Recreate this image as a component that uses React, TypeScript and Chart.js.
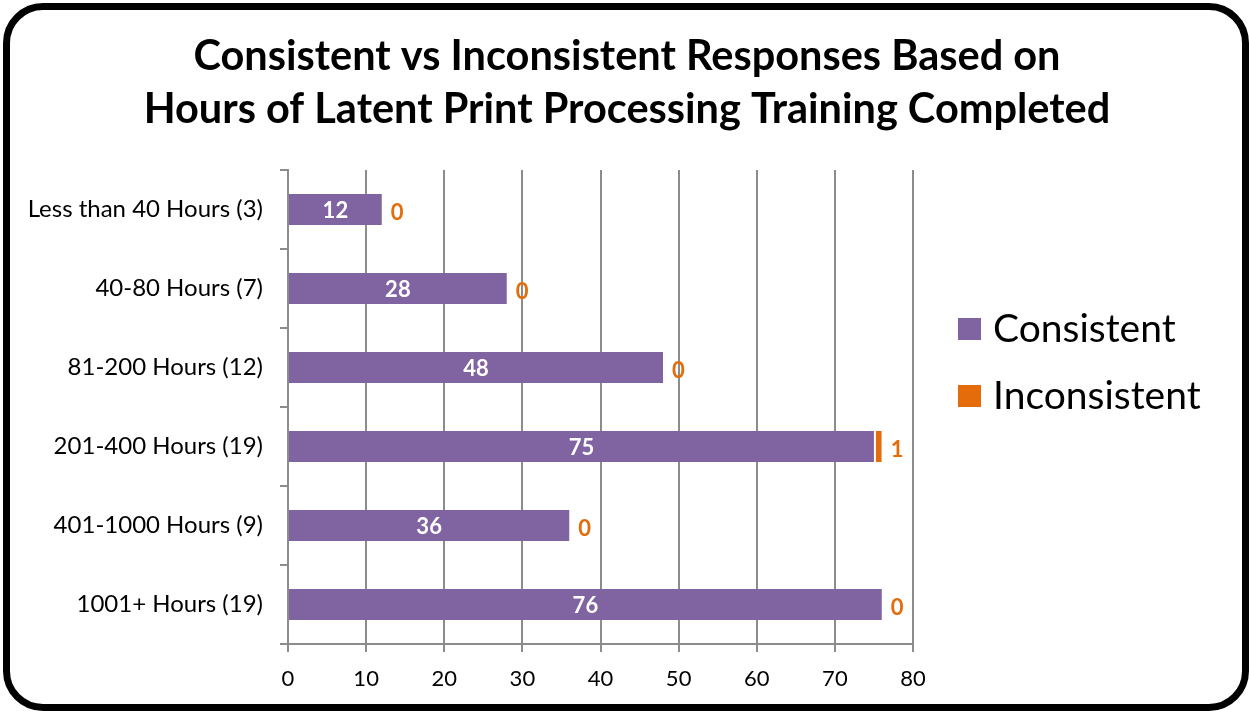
import React, { useEffect, useRef } from "react";
import Chart from "chart.js/auto";

const categories = [
  "Less than 40 Hours (3)",
  "40-80 Hours (7)",
  "81-200 Hours (12)",
  "201-400 Hours (19)",
  "401-1000 Hours (9)",
  "1001+ Hours (19)",
];
const consistent = [12, 28, 48, 75, 36, 76];
const inconsistent = [0, 0, 0, 1, 0, 0];
const seriesNames = ["Consistent", "Inconsistent"];
const titleLines = [
  "Consistent vs Inconsistent Responses Based on",
  "Hours of Latent Print Processing Training Completed",
];
const xMin = 0;
const xMax = 80;
const xStep = 10;

const PURPLE = "#8064A2";
const ORANGE = "#E46C0A";
const GRID = "#8c8c8c";
const FONT = "Lato, 'Open Sans', sans-serif";

const labelPlugin = {
  id: "valueLabels",
  afterDatasetsDraw(chart: any) {
    const ctx = chart.ctx;
    ctx.save();
    const m0 = chart.getDatasetMeta(0);
    ctx.font = `bold 22px ${FONT}`;
    ctx.textBaseline = "middle";
    ctx.textAlign = "center";
    ctx.fillStyle = "#ffffff";
    m0.data.forEach((el: any, i: number) => {
      const cx = (el.x + el.base) / 2;
      ctx.fillText(String(chart.data.datasets[0].data[i]), cx, el.y + 1);
    });
    const m1 = chart.getDatasetMeta(1);
    ctx.fillStyle = ORANGE;
    ctx.textAlign = "left";
    m1.data.forEach((el: any, i: number) => {
      ctx.fillText(String(chart.data.datasets[1].data[i]), el.x + 9, el.y + 3);
    });
    ctx.restore();
  },
};

const titleLegendPlugin = {
  id: "titleLegend",
  afterDraw(chart: any) {
    const ctx = chart.ctx;
    ctx.save();
    // title
    ctx.font = `bold 41.5px ${FONT}`;
    ctx.fillStyle = "#000";
    ctx.textAlign = "center";
    ctx.textBaseline = "alphabetic";
    titleLines.forEach((line, i) => {
      ctx.fillText(line, 627, 70 + i * 53);
    });
    // legend
    const colors = [PURPLE, ORANGE];
    const baselines = [342, 409];
    ctx.font = `39px ${FONT}`;
    ctx.textAlign = "left";
    seriesNames.forEach((name, i) => {
      ctx.fillStyle = colors[i];
      ctx.fillRect(958, baselines[i] - 24, 23, 22);
      ctx.fillStyle = "#000";
      ctx.fillText(name, 993, baselines[i]);
    });
    ctx.restore();
  },
};

export default function App() {
  const ref = useRef<HTMLCanvasElement>(null);
  useEffect(() => {
    if (!ref.current) return;
    const chart = new Chart(ref.current, {
      type: "bar",
      data: {
        labels: categories,
        datasets: [
          {
            label: seriesNames[0],
            data: consistent,
            backgroundColor: PURPLE,
            borderWidth: 0,
            barPercentage: 0.78,
            categoryPercentage: 0.5,
          },
          {
            label: seriesNames[1],
            data: inconsistent,
            backgroundColor: ORANGE,
            borderColor: "#ffffff",
            borderWidth: { left: 2 } as any,
            borderSkipped: false,
            barPercentage: 0.78,
            categoryPercentage: 0.5,
          },
        ],
      },
      options: {
        indexAxis: "y",
        responsive: false,
        animation: false,
        layout: { padding: { left: 0, right: 336, top: 170, bottom: 0 } },
        plugins: {
          legend: { display: false },
          tooltip: { enabled: false },
          title: { display: false },
        },
        scales: {
          x: {
            stacked: true,
            min: xMin,
            max: xMax,
            ticks: {
              stepSize: xStep,
              color: "#000",
              font: { family: FONT, size: 22 },
              padding: 14,
            },
            grid: { color: GRID, lineWidth: 2, tickLength: 8 },
            border: { color: GRID, width: 2 },
            afterFit: (s: any) => {
              s.height = 67;
            },
          },
          y: {
            stacked: true,
            ticks: {
              color: "#000",
              font: { family: FONT, size: 24 },
              padding: 17,
            },
            grid: {
              offset: true,
              drawOnChartArea: false,
              color: GRID,
              lineWidth: 2,
              tickLength: 8,
            },
            border: { color: GRID, width: 2 },
            afterFit: (s: any) => {
              s.width = 288;
            },
          },
        },
      },
      plugins: [labelPlugin, titleLegendPlugin],
    });
    return () => chart.destroy();
  }, []);

  return (
    <div
      style={{
        position: "fixed",
        left: 0,
        top: 0,
        width: 1249,
        height: 711,
        background: "#fff",
      }}
    >
      <canvas ref={ref} width={1249} height={711} style={{ display: "block" }} />
      <div
        style={{
          position: "absolute",
          left: 3,
          top: 3,
          width: 1246,
          height: 708,
          boxSizing: "border-box",
          border: "7px solid #000",
          borderRadius: 40,
          pointerEvents: "none",
        }}
      />
    </div>
  );
}
